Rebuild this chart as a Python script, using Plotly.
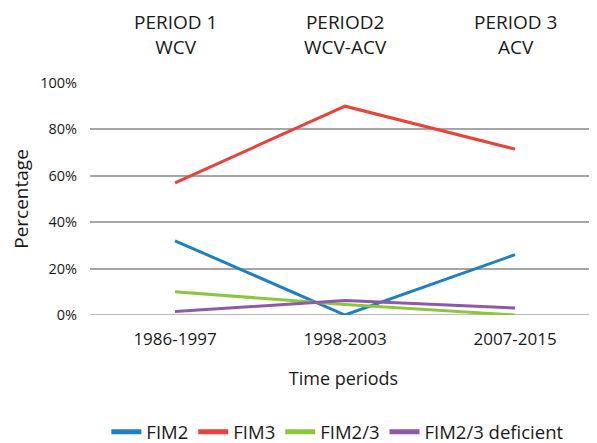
import plotly.graph_objects as go

periods = ["1986-1997", "1998-2003", "2007-2015"]
period_labels = ["PERIOD 1<br>WCV", "PERIOD2<br>WCV-ACV", "PERIOD 3<br>ACV"]
series_names = ["FIM2", "FIM3", "FIM2/3", "FIM2/3 deficient"]
fim2 = [32, 0, 26]
fim3 = [57, 90, 71.5]
fim23 = [10, 4.5, 0]
fim23_def = [1.5, 6.2, 3]
colors = ["#1f7fc4", "#e8423a", "#8cc63f", "#8e5aa8"]

FONT = "Open Sans, sans-serif"
# page body has an 8px default margin; figure is sized to fit the 597x443 window
W, H = 589, 435
fig = go.Figure()
for name, vals, c in zip(series_names, [fim2, fim3, fim23, fim23_def], colors):
    fig.add_trace(go.Scatter(x=periods, y=vals, mode="lines", name=name,
                             line=dict(color=c, width=3)))

for p, lab in zip(periods, period_labels):
    fig.add_annotation(x=p, y=1.21, xref="x", yref="paper", yanchor="middle",
                       text=lab, showarrow=False,
                       font=dict(size=19, color="#1a1a1a", family=FONT), align="center")

fig.update_layout(
    width=W, height=H,
    margin=dict(l=82, r=0, t=75, b=128),
    plot_bgcolor="white", paper_bgcolor="white",
    font=dict(family=FONT, color="#1a1a1a"),
    showlegend=True,
    legend=dict(orientation="h", x=0.56, xref="container", xanchor="center",
                y=0.025, yref="container", yanchor="middle",
                font=dict(size=18.5, color="#1a1a1a"), itemwidth=30, tracegroupgap=0,
                itemsizing="constant"),
    xaxis=dict(range=[-0.5, 2.482], showgrid=False, zeroline=False, showline=False,
               automargin=False, ticks="", tickfont=dict(size=17), ticklabelstandoff=12,
               title=dict(text="Time periods", font=dict(size=18), standoff=23)),
    yaxis=dict(range=[0, 100], tickvals=[0, 20, 40, 60, 80, 100],
               ticktext=["0%", "20%", "40%", "60%", "80%", "100%"],
               automargin=False,
               showgrid=True, gridcolor="#a6a6a6", gridwidth=1.5, zeroline=False,
               showline=False, ticks="", tickfont=dict(size=14.5), ticklabelstandoff=12,
               title=dict(text="Percentage", font=dict(size=19), standoff=12)),
)
fig.add_hline(y=0, line=dict(color="#a6a6a6", width=1.5), layer="below")
fig.write_html("out.html")
